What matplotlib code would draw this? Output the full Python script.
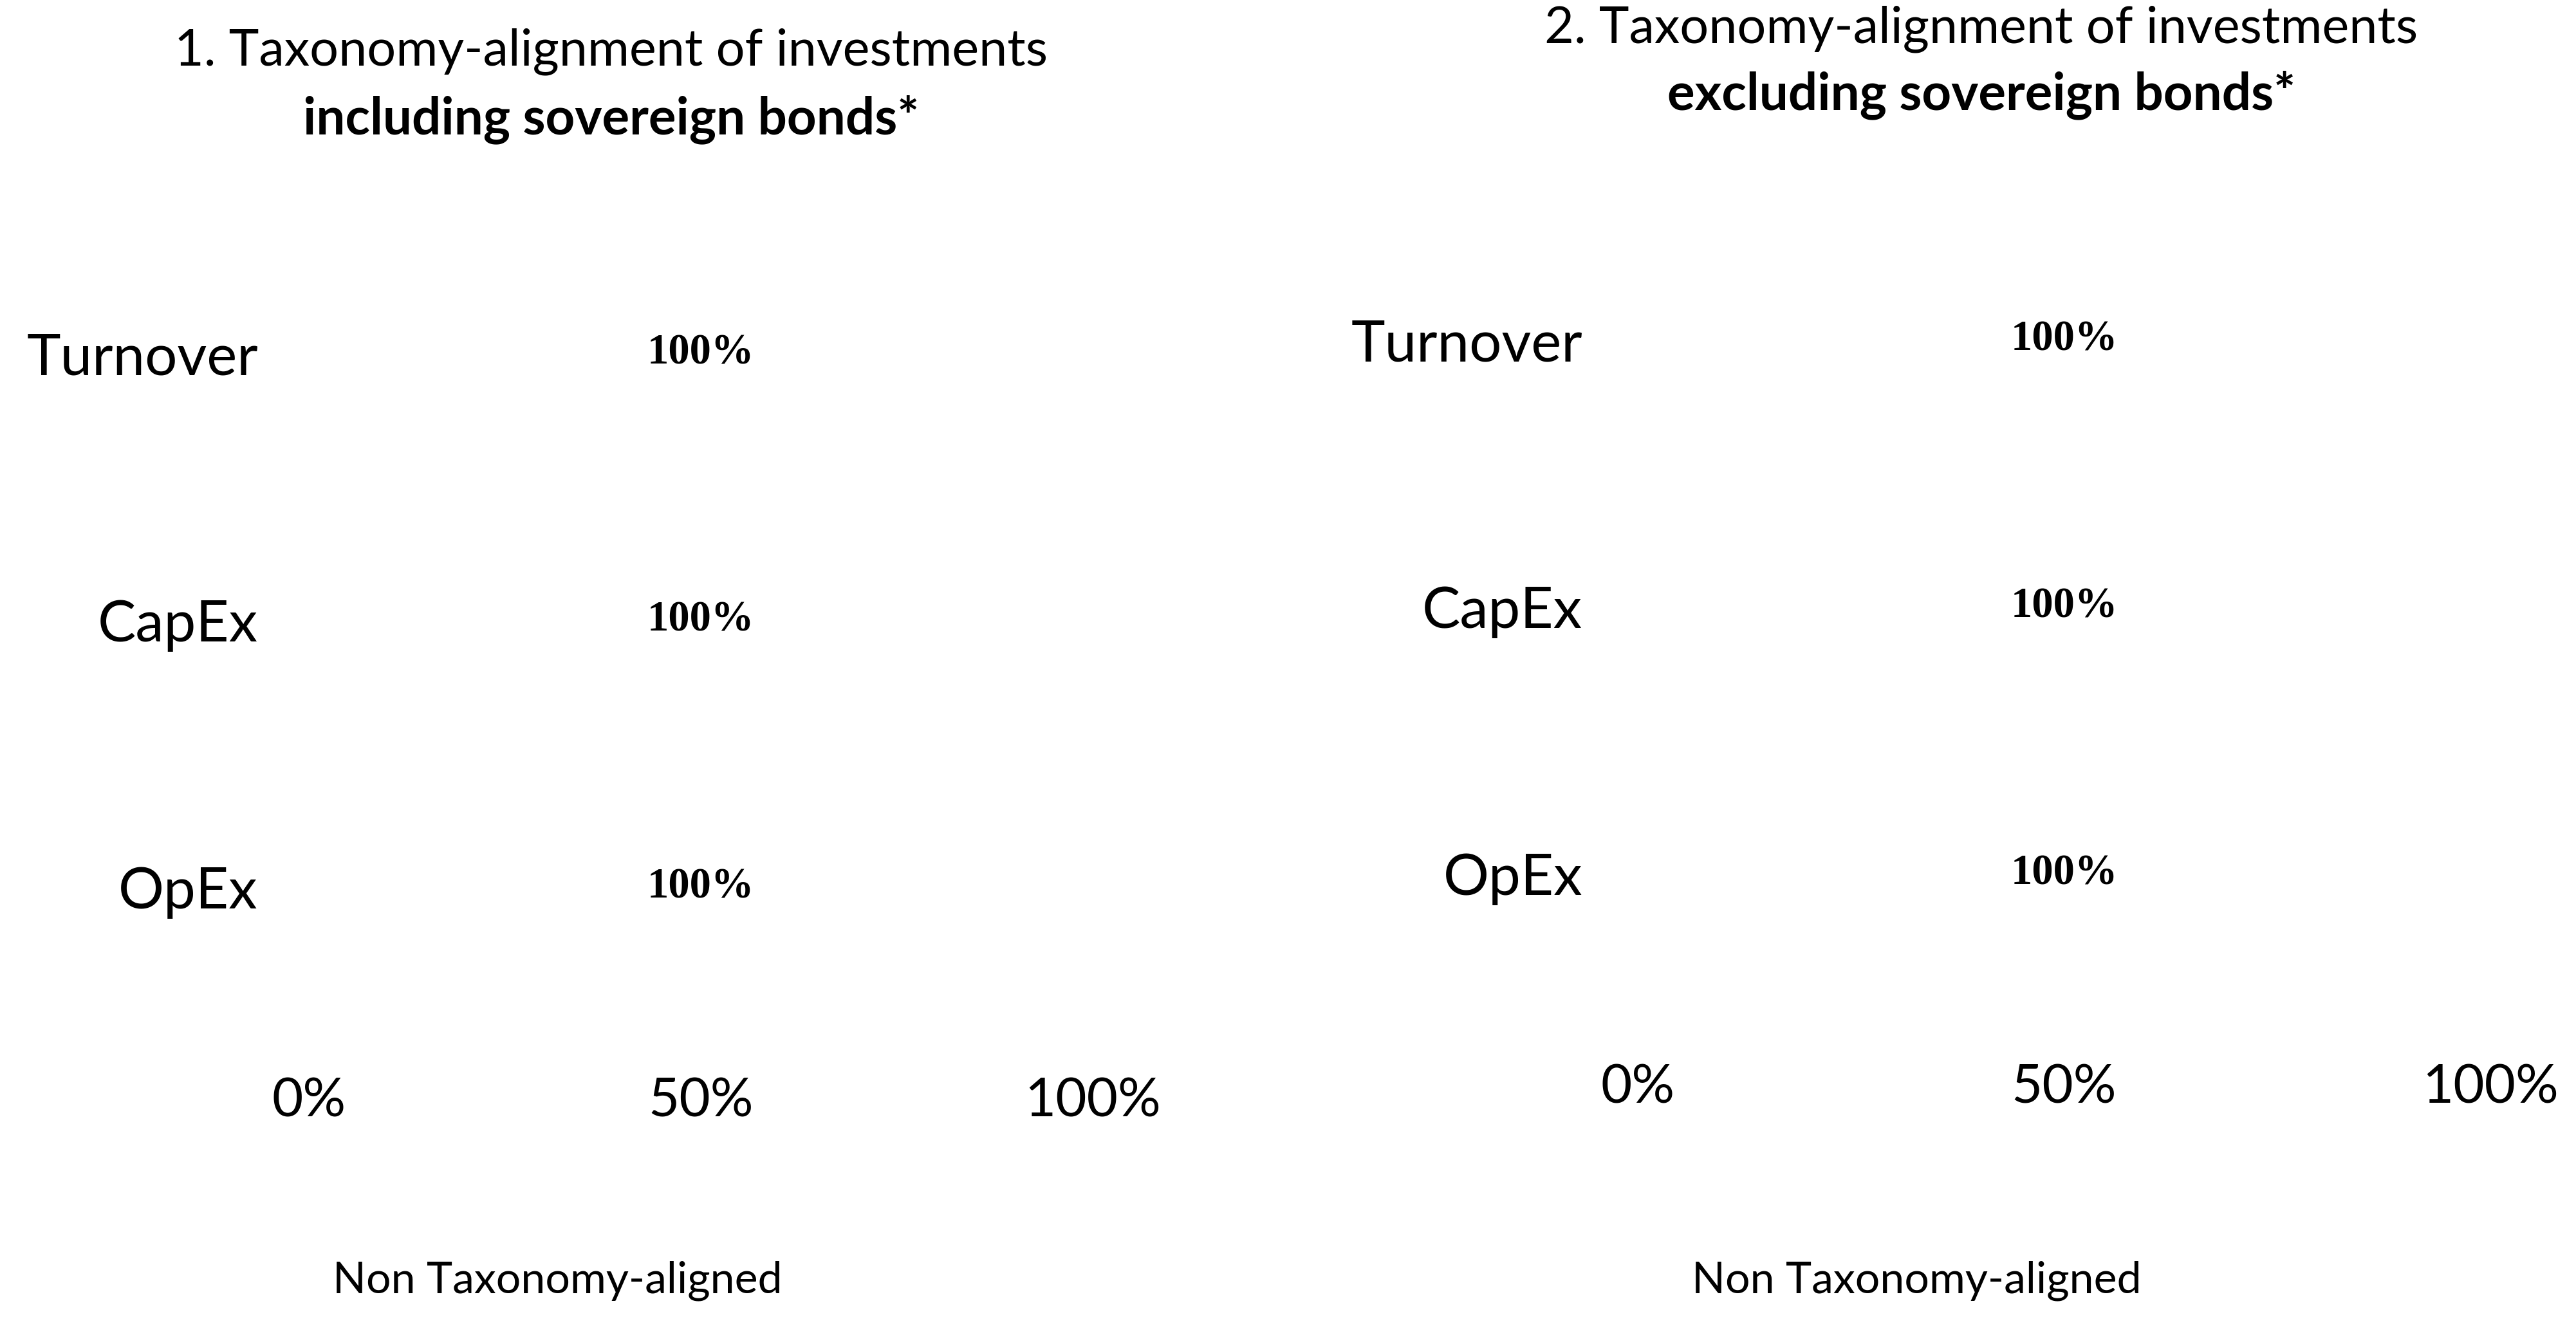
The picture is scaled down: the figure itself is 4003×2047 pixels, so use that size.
import numpy as np
import matplotlib.pyplot as plt
from matplotlib.patches import Patch

# datos de los dos graficos
categorias = ["Turnover", "CapEx", "OpEx"]
no_alineado_incl = [100, 100, 100]
no_alineado_excl = [100, 100, 100]
ticks_x = [0, 50, 100]
etiquetas_x = ["0%", "50%", "100%"]
leyenda = "Non Taxonomy-aligned"

plt.rcParams["font.family"] = ["Lato", "DejaVu Sans"]

fig = plt.figure(figsize=(40.03, 20.47), dpi=100)
fig.patch.set_facecolor("white")


def panel(rect, valores, pad_cat):
    ax = fig.add_axes(rect)
    y = np.arange(len(categorias))
    barras = ax.barh(y, valores, height=0.6, color="white", edgecolor="none")
    ax.bar_label(barras, labels=[f"{v}%" for v in valores], label_type="center",
                 fontsize=48, family="Liberation Serif", fontweight="bold")
    ax.set_yticks(y)
    ax.set_yticklabels(categorias, fontsize=64)
    ax.set_ylim(-0.5, len(categorias) - 0.5)
    ax.invert_yaxis()
    ax.set_xlim(0, 100)
    ax.set_xticks(ticks_x)
    ax.set_xticklabels(etiquetas_x, fontsize=60)
    ax.tick_params(axis="x", length=0, pad=63)
    ax.tick_params(axis="y", length=0, pad=pad_cat)
    for s in ax.spines.values():
        s.set_visible(False)
    return ax


ax1 = panel([0.1199, 0.2249, 0.3043, 0.6082], no_alineado_incl, 57)
ax2 = panel([0.6358, 0.2352, 0.3310, 0.6082], no_alineado_excl, 62)

# titulos
fig.text(0.2373, 1 - 80 / 2047, "1. Taxonomy-alignment of investments",
         ha="center", va="center", fontsize=57)
fig.text(0.2373, 1 - 186 / 2047, "including sovereign bonds*",
         ha="center", va="center", fontsize=57.5, fontweight="bold")
fig.text(0.7692, 1 - 45 / 2047, "2. Taxonomy-alignment of investments",
         ha="center", va="center", fontsize=57)
fig.text(0.7692, 1 - 148 / 2047, "excluding sovereign bonds*",
         ha="center", va="center", fontsize=57.5, fontweight="bold")

# leyendas (parche blanco, como en el original)
for ax, xc in [(ax1, 0.2036), (ax2, 0.7312)]:
    ax.legend(handles=[Patch(facecolor="white", edgecolor="none", label=leyenda)],
              loc="center", bbox_to_anchor=(xc, 0.0274), bbox_transform=fig.transFigure,
              frameon=False, fontsize=49, handlelength=1, handletextpad=0.5)

fig.savefig("out.png", dpi=100, facecolor="white")
